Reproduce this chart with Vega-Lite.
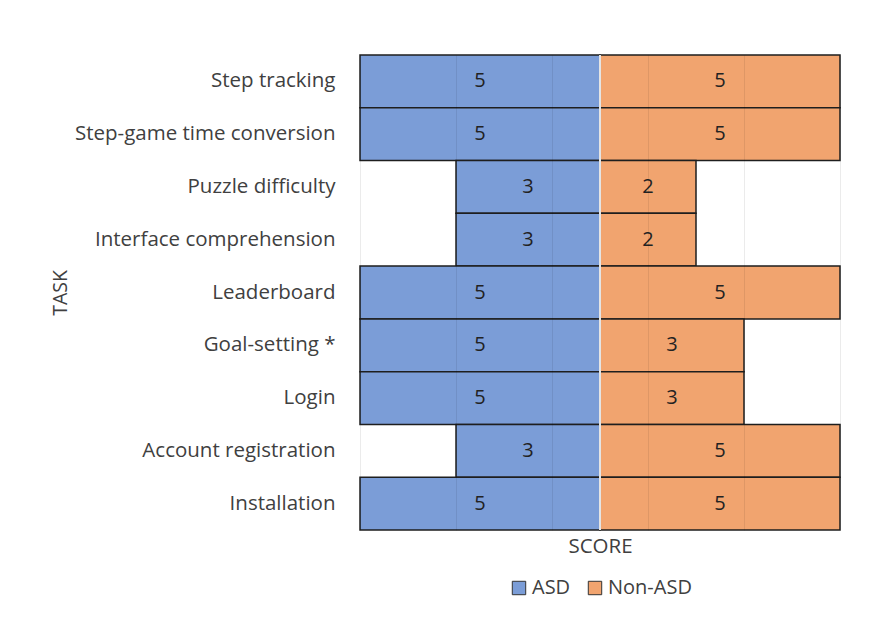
{
  "$schema": "https://vega.github.io/schema/vega-lite/v6.json",
  "autosize": "none",
  "width": 480,
  "height": 475,
  "padding": {"left": 360, "top": 55, "right": 42, "bottom": 108},
  "background": "white",
  "config": {
    "font": "Open Sans",
    "view": {"stroke": null},
    "axis": {"labelFont": "Open Sans", "titleFont": "Open Sans"},
    "legend": {"labelFont": "Open Sans", "layout": {"bottom": {"anchor": "middle"}}}
  },
  "data": {
    "values": [
      {"task": "Step tracking", "group": "ASD", "score": 5},
      {"task": "Step tracking", "group": "Non-ASD", "score": 5},
      {"task": "Step-game time conversion", "group": "ASD", "score": 5},
      {"task": "Step-game time conversion", "group": "Non-ASD", "score": 5},
      {"task": "Puzzle difficulty", "group": "ASD", "score": 3},
      {"task": "Puzzle difficulty", "group": "Non-ASD", "score": 2},
      {"task": "Interface comprehension", "group": "ASD", "score": 3},
      {"task": "Interface comprehension", "group": "Non-ASD", "score": 2},
      {"task": "Leaderboard", "group": "ASD", "score": 5},
      {"task": "Leaderboard", "group": "Non-ASD", "score": 5},
      {"task": "Goal-setting *", "group": "ASD", "score": 5},
      {"task": "Goal-setting *", "group": "Non-ASD", "score": 3},
      {"task": "Login", "group": "ASD", "score": 5},
      {"task": "Login", "group": "Non-ASD", "score": 3},
      {"task": "Account registration", "group": "ASD", "score": 3},
      {"task": "Account registration", "group": "Non-ASD", "score": 5},
      {"task": "Installation", "group": "ASD", "score": 5},
      {"task": "Installation", "group": "Non-ASD", "score": 5}
    ]
  },
  "transform": [
    {"calculate": "datum.group === 'ASD' ? -datum.score : datum.score", "as": "value"},
    {"calculate": "datum.value / 2", "as": "mid"}
  ],
  "layer": [
    {
      "mark": {"type": "bar", "stroke": "#1e1e1e", "strokeWidth": 1.5},
      "encoding": {
        "y": {
          "field": "task",
          "type": "nominal",
          "sort": ["Step tracking", "Step-game time conversion", "Puzzle difficulty", "Interface comprehension", "Leaderboard", "Goal-setting *", "Login", "Account registration", "Installation"],
          "scale": {"paddingInner": 0, "paddingOuter": 0},
          "axis": {
            "title": "TASK",
            "titleFontSize": 19.5,
            "titleFontWeight": "normal",
            "titleColor": "#404040",
            "titlePadding": 90,
            "labelFontSize": 20.5,
            "labelColor": "#404040",
            "labelPadding": 25,
            "labelLimit": 0,
            "domain": false,
            "ticks": false,
            "grid": false
          }
        },
        "x": {
          "field": "value",
          "type": "quantitative",
          "scale": {"domain": [-5, 5], "nice": false},
          "axis": {
            "title": "SCORE",
            "titleFontSize": 20.5,
            "titleFontWeight": "normal",
            "titleColor": "#404040",
            "titlePadding": 6,
            "values": [-5, -3, -1, 1, 3, 5],
            "labels": false,
            "ticks": false,
            "domain": false,
            "grid": true,
            "gridColor": "#000000",
            "gridOpacity": 0.08,
            "gridWidth": 1,
            "zindex": 1
          }
        },
        "color": {
          "field": "group",
          "type": "nominal",
          "scale": {"domain": ["ASD", "Non-ASD"], "range": ["#7B9DD7", "#F1A46F"]},
          "legend": {
            "title": null,
            "orient": "bottom",
            "direction": "horizontal",
            "symbolType": "square",
            "symbolSize": 180,
            "symbolStrokeColor": "#333333",
            "symbolStrokeWidth": 1,
            "symbolOpacity": 1,
            "labelFontSize": 20,
            "labelColor": "#404040",
            "columnPadding": 14,
            "labelOffset": 3,
            "offset": 21
          }
        }
      }
    },
    {
      "mark": {"type": "rule", "color": "#e4e4e4", "strokeWidth": 1.5},
      "encoding": {"x": {"datum": 0}}
    },
    {
      "mark": {"type": "text", "fontSize": 20, "color": "#222222", "baseline": "middle"},
      "encoding": {
        "y": {
          "field": "task",
          "type": "nominal",
          "sort": ["Step tracking", "Step-game time conversion", "Puzzle difficulty", "Interface comprehension", "Leaderboard", "Goal-setting *", "Login", "Account registration", "Installation"]
        },
        "x": {"field": "mid", "type": "quantitative"},
        "text": {"field": "score", "type": "quantitative"}
      }
    }
  ]
}
